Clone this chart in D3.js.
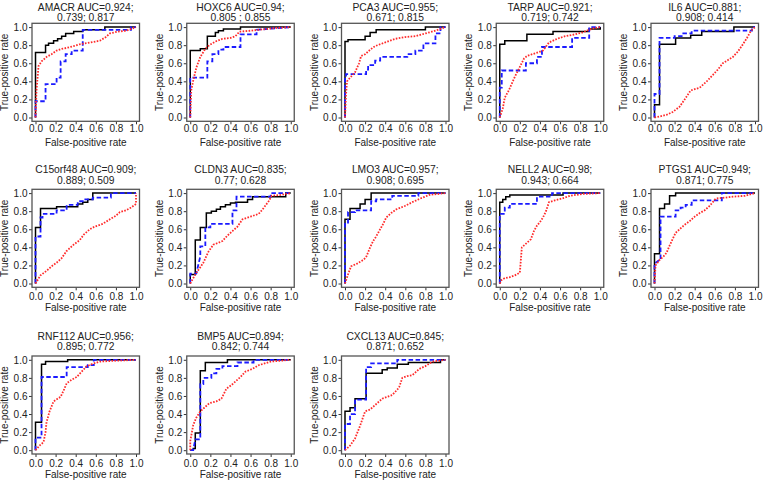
<!DOCTYPE html>
<html><head><meta charset="utf-8">
<script src="https://cdn.jsdelivr.net/npm/d3@7"></script>
<style>body{margin:0;background:#fff}text{font-family:"Liberation Sans",Arial,sans-serif;fill:#222}</style>
</head><body><svg id="c" width="764" height="481"></svg>
<script>
const genes = ["AMACR","HOXC6","PCA3","TARP","IL6","C15orf48","CLDN3","LMO3","NELL2","PTGS1","RNF112","BMP5","CXCL13"];
const titleLine1 = ["AMACR AUC=0.924;","HOXC6 AUC=0.94;","PCA3 AUC=0.955;","TARP AUC=0.921;","IL6 AUC=0.881;","C15orf48 AUC=0.909;","CLDN3 AUC=0.835;","LMO3 AUC=0.957;","NELL2 AUC=0.98;","PTGS1 AUC=0.949;","RNF112 AUC=0.956;","BMP5 AUC=0.894;","CXCL13 AUC=0.845;"];
const titleLine2 = ["0.739; 0.817","0.805 ; 0.855","0.671; 0.815","0.719; 0.742","0.908; 0.414","0.889; 0.509","0.77; 0.628","0.908; 0.695","0.943; 0.664","0.871; 0.775","0.895; 0.772","0.842; 0.744","0.871; 0.652"];
const tickValues = [0,0.2,0.4,0.6,0.8,1.0];
const xLabel = "False-positive rate", yLabel = "True-positive rate";

const blackCurves = [
 [[0,0],[0,0.72],[0.1,0.72],[0.1,0.8],[0.13,0.8],[0.13,0.82],[0.18,0.82],[0.18,0.85],[0.22,0.85],[0.22,0.87],[0.26,0.87],[0.26,0.9],[0.3,0.9],[0.3,0.93],[0.38,0.93],[0.38,0.95],[0.47,0.95],[0.47,0.97],[0.69,0.97],[0.69,1],[1,1]],
 [[0,0],[0,0.74],[0.1,0.74],[0.1,0.76],[0.17,0.76],[0.17,0.9],[0.25,0.9],[0.25,0.94],[0.28,0.94],[0.28,0.96],[0.33,0.96],[0.33,0.98],[0.5,0.98],[0.5,1],[1,1]],
 [[0,0],[0,0.84],[0.03,0.84],[0.03,0.86],[0.2,0.86],[0.2,0.9],[0.25,0.9],[0.25,0.94],[0.31,0.94],[0.31,0.97],[0.8,0.97],[0.8,1],[1,1]],
 [[0,0],[0,0.81],[0.05,0.81],[0.05,0.85],[0.27,0.85],[0.27,0.92],[0.53,0.92],[0.53,0.95],[0.89,0.95],[0.89,0.98],[1,0.98],[1,1]],
 [[0,0],[0,0.14],[0.05,0.14],[0.05,0.81],[0.21,0.81],[0.21,0.88],[0.36,0.88],[0.36,0.91],[0.47,0.91],[0.47,0.95],[0.79,0.95],[0.79,1],[1,1]],
 [[0,0],[0,0.62],[0.05,0.62],[0.05,0.83],[0.21,0.83],[0.21,0.85],[0.42,0.85],[0.42,0.88],[0.47,0.88],[0.47,0.9],[0.52,0.9],[0.52,0.93],[0.57,0.93],[0.57,1],[1,1]],
 [[0,0],[0,0.1],[0.05,0.1],[0.05,0.48],[0.1,0.48],[0.1,0.62],[0.16,0.62],[0.16,0.78],[0.21,0.78],[0.21,0.8],[0.26,0.8],[0.26,0.82],[0.3,0.82],[0.3,0.85],[0.35,0.85],[0.35,0.87],[0.4,0.87],[0.4,0.89],[0.45,0.89],[0.45,0.9],[0.57,0.9],[0.57,0.93],[0.62,0.93],[0.62,0.96],[0.95,0.96],[0.95,1],[1,1]],
 [[0,0],[0,0.71],[0.05,0.71],[0.05,0.83],[0.15,0.83],[0.15,0.88],[0.2,0.88],[0.2,0.93],[0.26,0.93],[0.26,1],[1,1]],
 [[0,0],[0,0.9],[0.03,0.9],[0.03,0.93],[0.06,0.93],[0.06,0.96],[0.1,0.96],[0.1,0.98],[0.63,0.98],[0.63,1],[1,1]],
 [[0,0],[0,0.33],[0.05,0.33],[0.05,0.83],[0.1,0.83],[0.1,0.88],[0.15,0.88],[0.15,0.97],[0.21,0.97],[0.21,1],[1,1]],
 [[0,0],[0,0.31],[0.06,0.31],[0.06,0.95],[0.1,0.95],[0.1,0.98],[0.32,0.98],[0.32,1],[1,1]],
 [[0,0],[0.03,0],[0.03,0.02],[0.05,0.02],[0.05,0.19],[0.1,0.19],[0.1,0.88],[0.15,0.88],[0.15,0.97],[0.37,0.97],[0.37,1],[1,1]],
 [[0,0],[0,0.43],[0.05,0.43],[0.05,0.47],[0.1,0.47],[0.1,0.57],[0.21,0.57],[0.21,0.85],[0.37,0.85],[0.37,0.89],[0.42,0.89],[0.42,0.91],[0.52,0.91],[0.52,0.95],[0.63,0.95],[0.63,0.97],[0.95,0.97],[0.95,1],[1,1]]
];
const blueCurves = [
 [[0,0],[0,0.18],[0.1,0.18],[0.1,0.37],[0.21,0.37],[0.21,0.44],[0.25,0.44],[0.25,0.62],[0.3,0.62],[0.3,0.7],[0.36,0.7],[0.36,0.74],[0.47,0.74],[0.47,0.97],[0.95,0.97],[0.95,1],[1,1]],
 [[0,0],[0,0.44],[0.17,0.44],[0.17,0.62],[0.22,0.62],[0.22,0.7],[0.28,0.7],[0.28,0.75],[0.33,0.75],[0.33,0.78],[0.5,0.78],[0.5,0.92],[0.66,0.92],[0.66,0.97],[1,1]],
 [[0,0],[0,0.44],[0.01,0.44],[0.01,0.48],[0.21,0.48],[0.21,0.53],[0.23,0.53],[0.23,0.58],[0.3,0.58],[0.3,0.63],[0.35,0.63],[0.35,0.67],[0.62,0.67],[0.62,0.7],[0.7,0.7],[0.7,0.74],[0.78,0.74],[0.78,0.82],[0.9,0.82],[0.9,0.93],[0.95,0.93],[0.95,1],[1,1]],
 [[0,0],[0,0.33],[0.02,0.33],[0.02,0.52],[0.26,0.52],[0.26,0.6],[0.37,0.6],[0.37,0.67],[0.42,0.67],[0.42,0.78],[0.72,0.78],[0.72,0.88],[0.89,0.88],[0.89,1],[1,1]],
 [[0,0],[0,0.26],[0.05,0.26],[0.05,0.88],[0.2,0.88],[0.2,0.9],[0.27,0.9],[0.27,0.93],[0.37,0.93],[0.37,0.96],[0.97,0.96],[0.97,1],[1,1]],
 [[0,0],[0,0.52],[0.05,0.52],[0.05,0.73],[0.07,0.73],[0.07,0.77],[0.21,0.77],[0.21,0.81],[0.31,0.81],[0.31,0.87],[0.42,0.87],[0.42,0.91],[0.47,0.91],[0.47,0.93],[0.57,0.93],[0.57,0.95],[0.75,0.95],[0.75,1],[1,1]],
 [[0,0],[0,0.11],[0.06,0.11],[0.1,0.3],[0.1,0.41],[0.15,0.41],[0.15,0.62],[0.2,0.62],[0.2,0.66],[0.42,0.66],[0.42,0.81],[0.46,0.81],[0.46,0.96],[0.8,0.96],[0.8,1],[1,1]],
 [[0,0],[0,0.66],[0.03,0.66],[0.03,0.79],[0.1,0.79],[0.1,0.81],[0.26,0.81],[0.26,0.91],[0.31,0.91],[0.31,0.93],[0.47,0.93],[0.47,0.97],[0.73,0.97],[0.73,1],[1,1]],
 [[0,0],[0,0.77],[0.05,0.77],[0.05,0.84],[0.1,0.84],[0.1,0.88],[0.37,0.88],[0.37,0.96],[0.52,0.96],[0.52,1],[1,1]],
 [[0,0],[0,0.22],[0.05,0.26],[0.06,0.26],[0.06,0.74],[0.21,0.74],[0.21,0.81],[0.26,0.81],[0.26,0.84],[0.31,0.84],[0.31,0.87],[0.37,0.87],[0.37,0.92],[0.67,0.92],[0.67,1],[1,1]],
 [[0,0],[0,0.14],[0.06,0.14],[0.06,0.81],[0.31,0.81],[0.31,0.92],[0.52,0.92],[0.52,0.94],[0.58,0.94],[0.58,1],[1,1]],
 [[0,0],[0.03,0],[0.05,0.12],[0.1,0.12],[0.1,0.73],[0.13,0.73],[0.13,0.8],[0.21,0.8],[0.21,0.85],[0.26,0.85],[0.26,0.9],[0.32,0.9],[0.32,0.93],[0.47,0.93],[0.47,0.97],[0.63,0.97],[0.63,1],[1,1]],
 [[0,0],[0,0.29],[0.05,0.29],[0.05,0.4],[0.1,0.4],[0.1,0.56],[0.21,0.56],[0.21,0.92],[0.26,0.92],[0.26,0.96],[0.52,0.96],[0.52,1],[1,1]]
];
const redCurves = [
 [[0,0],[0.01,0.3],[0.03,0.57],[0.06,0.62],[0.11,0.67],[0.16,0.7],[0.21,0.74],[0.26,0.76],[0.31,0.77],[0.38,0.79],[0.44,0.81],[0.55,0.83],[0.64,0.85],[0.7,0.89],[0.74,0.93],[0.82,0.95],[0.9,0.96],[1,1]],
 [[0,0],[0.01,0.3],[0.03,0.41],[0.06,0.55],[0.1,0.67],[0.15,0.76],[0.19,0.8],[0.25,0.84],[0.32,0.87],[0.4,0.88],[0.45,0.9],[0.49,0.95],[0.6,0.96],[0.68,0.97],[0.85,0.99],[1,1]],
 [[0,0],[0.01,0.25],[0.02,0.4],[0.05,0.44],[0.1,0.5],[0.14,0.6],[0.16,0.68],[0.2,0.7],[0.25,0.75],[0.3,0.79],[0.4,0.83],[0.5,0.87],[0.6,0.89],[0.7,0.9],[0.8,0.93],[0.9,0.96],[1,1]],
 [[0,0],[0.03,0.1],[0.05,0.22],[0.09,0.3],[0.15,0.45],[0.2,0.56],[0.24,0.65],[0.27,0.68],[0.35,0.71],[0.43,0.74],[0.49,0.83],[0.57,0.87],[0.65,0.9],[0.75,0.92],[0.82,0.94],[0.94,0.99],[1,1]],
 [[0,0],[0.05,0.01],[0.12,0.03],[0.18,0.06],[0.25,0.12],[0.3,0.2],[0.36,0.3],[0.45,0.33],[0.52,0.4],[0.58,0.47],[0.63,0.53],[0.68,0.6],[0.78,0.67],[0.83,0.73],[0.88,0.81],[0.92,0.88],[0.96,0.96],[1,1]],
 [[0,0],[0.05,0.09],[0.11,0.14],[0.16,0.19],[0.21,0.23],[0.26,0.28],[0.31,0.36],[0.38,0.43],[0.44,0.48],[0.48,0.54],[0.54,0.6],[0.59,0.63],[0.67,0.66],[0.74,0.71],[0.8,0.75],[0.84,0.79],[0.9,0.81],[0.95,0.84],[1,0.88],[1,1]],
 [[0,0],[0.05,0.1],[0.1,0.18],[0.13,0.23],[0.18,0.35],[0.23,0.43],[0.28,0.45],[0.32,0.47],[0.37,0.53],[0.42,0.58],[0.47,0.63],[0.52,0.71],[0.6,0.74],[0.68,0.77],[0.72,0.82],[0.78,0.91],[0.81,0.97],[0.9,0.98],[1,1]],
 [[0,0],[0.03,0.1],[0.06,0.19],[0.12,0.22],[0.18,0.26],[0.21,0.29],[0.25,0.4],[0.28,0.47],[0.31,0.52],[0.34,0.58],[0.38,0.66],[0.41,0.73],[0.46,0.78],[0.51,0.82],[0.6,0.86],[0.67,0.9],[0.75,0.94],[0.84,0.98],[1,1]],
 [[0,0],[0.02,0.04],[0.05,0.06],[0.1,0.07],[0.15,0.09],[0.2,0.12],[0.22,0.4],[0.27,0.45],[0.31,0.49],[0.34,0.58],[0.37,0.64],[0.4,0.68],[0.43,0.73],[0.46,0.8],[0.49,0.9],[0.55,0.92],[0.62,0.94],[0.7,0.97],[0.82,0.99],[1,1]],
 [[0,0],[0.01,0.2],[0.05,0.26],[0.09,0.3],[0.12,0.34],[0.15,0.42],[0.18,0.49],[0.21,0.56],[0.25,0.6],[0.3,0.65],[0.35,0.69],[0.4,0.74],[0.45,0.78],[0.5,0.81],[0.55,0.86],[0.61,0.94],[0.7,0.95],[0.78,0.96],[0.9,0.97],[1,1]],
 [[0,0],[0.04,0.05],[0.08,0.09],[0.1,0.2],[0.11,0.31],[0.14,0.43],[0.18,0.54],[0.22,0.57],[0.25,0.59],[0.28,0.66],[0.31,0.74],[0.36,0.78],[0.41,0.81],[0.46,0.87],[0.51,0.93],[0.58,0.96],[0.64,0.98],[0.8,0.99],[1,1]],
 [[0,0],[0,0.1],[0.03,0.28],[0.06,0.36],[0.1,0.43],[0.14,0.47],[0.19,0.52],[0.26,0.54],[0.31,0.57],[0.36,0.68],[0.41,0.72],[0.45,0.76],[0.5,0.81],[0.55,0.87],[0.62,0.9],[0.68,0.94],[0.8,0.98],[1,1]],
 [[0,0],[0.05,0.05],[0.1,0.13],[0.15,0.27],[0.2,0.43],[0.25,0.45],[0.3,0.5],[0.37,0.57],[0.42,0.59],[0.47,0.61],[0.52,0.67],[0.54,0.7],[0.57,0.8],[0.62,0.82],[0.67,0.83],[0.71,0.87],[0.74,0.9],[0.8,0.93],[0.87,0.98],[1,1]]
];

// layout
const colLeft = c => 32 + c*154.75;
const rowTop = [23.3, 189.3, 356];
const titleY = [[10.7,20.7],[173.3,184],[340,349.6]];
const tickPad = [1, 2.5, 2.5];
const xLabelGap = [24.5, 23.5, 23.5];
const boxW = 107.5, boxH = 98, padX = 3.5, padY = 3.8;

const svg = d3.select("#c");
genes.forEach((g,i)=>{
  const r = Math.floor(i/5), c = i%5;
  const L = colLeft(c), T = rowTop[r];
  const x = d3.scaleLinear().domain([0,1]).range([L+padX, L+boxW-padX]);
  const y = d3.scaleLinear().domain([0,1]).range([T+boxH-padY, T+padY]);
  const gp = svg.append("g");
  gp.append("text").attr("x", L+boxW/2).attr("y", titleY[r][0]).attr("text-anchor","middle").attr("font-size","10.3px").text(titleLine1[i]);
  gp.append("text").attr("x", L+boxW/2).attr("y", titleY[r][1]).attr("text-anchor","middle").attr("font-size","10.3px").text(titleLine2[i]);
  const ax = gp.append("g").attr("transform",`translate(0,${T+boxH})`)
    .call(d3.axisBottom(x).tickValues(tickValues).tickFormat(d3.format(".1f")).tickSize(3).tickPadding(tickPad[r]));
  const ay = gp.append("g").attr("transform",`translate(${L},0)`)
    .call(d3.axisLeft(y).tickValues(tickValues).tickFormat(d3.format(".1f")).tickSize(3).tickPadding(1.5));
  [ax,ay].forEach(a=>{a.select(".domain").remove(); a.selectAll("line").attr("stroke","#333");
    a.selectAll("text").attr("font-size","10px").attr("font-family","Liberation Sans, Arial, sans-serif").attr("fill","#222");});
  gp.append("text").attr("x", L+boxW/2).attr("y", T+boxH+xLabelGap[r]).attr("text-anchor","middle").attr("font-size","10px").text(xLabel);
  gp.append("text").attr("transform",`translate(${L-24},${T+boxH/2}) rotate(-90)`).attr("text-anchor","middle").attr("font-size","10px").text(yLabel);
  const line = d3.line().x(d=>x(d[0])).y(d=>y(d[1]));
  gp.append("path").attr("d", line(blackCurves[i])).attr("fill","none").attr("stroke","#000").attr("stroke-width",1.5);
  gp.append("path").attr("d", line(blueCurves[i])).attr("fill","none").attr("stroke","#1a1aff").attr("stroke-width",1.8).attr("stroke-dasharray","4.5,2.5");
  gp.append("path").attr("d", line(redCurves[i])).attr("fill","none").attr("stroke","#ff2a2a").attr("stroke-width",1.8).attr("stroke-dasharray","1.6,1.4");
  gp.append("rect").attr("x",L).attr("y",T).attr("width",boxW).attr("height",boxH).attr("fill","none").attr("stroke","#555").attr("stroke-width",1.3);
});
</script></body></html>
